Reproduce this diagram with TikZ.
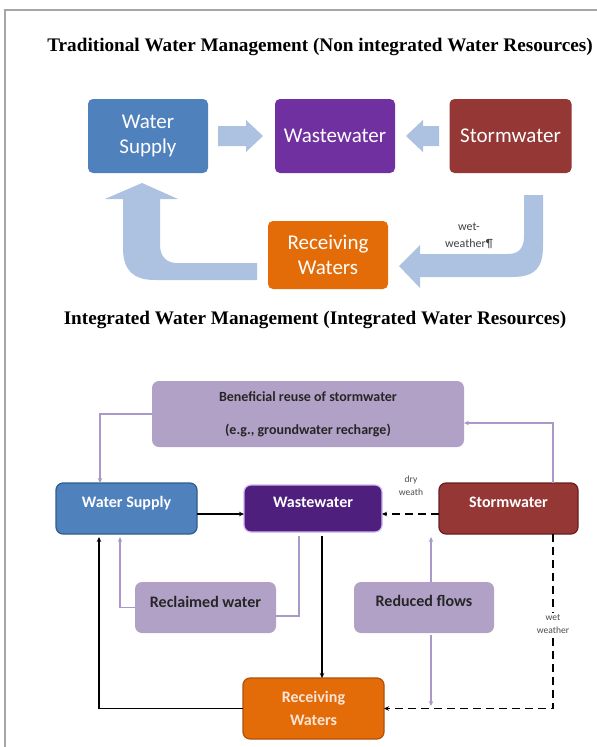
\documentclass[tikz,border=0pt]{standalone}
\usepackage{fontspec}
\setmainfont{Liberation Serif}
\newfontfamily\calfont{Carlito}
\usetikzlibrary{arrows.meta,calc}
\definecolor{tblue}{HTML}{4F81BD}
\definecolor{tpurple}{HTML}{7030A0}
\definecolor{tred}{HTML}{953735}
\definecolor{torange}{HTML}{E36C09}
\definecolor{arrowblue}{HTML}{ADC2E0}
\definecolor{lav}{HTML}{B2A1C7}
\definecolor{lavline}{HTML}{A999C9}
\definecolor{bpurple}{HTML}{4F1F7D}
\definecolor{bpurpleedge}{HTML}{D2B4F2}
\definecolor{bblueedge}{HTML}{2F5C8F}
\definecolor{bredge}{HTML}{6A1E1E}
\definecolor{boredge}{HTML}{B0500A}
\definecolor{framegray}{HTML}{A6A6A6}
\definecolor{rcvtext}{HTML}{FCE4D6}
\begin{document}
\begin{tikzpicture}[x=1pt,y=-1pt,
  topbox/.style={rectangle, rounded corners=5pt, inner sep=0pt, outer sep=0pt,
    minimum width=120pt, minimum height=74pt, text=white,
    font=\calfont\fontsize{21}{25}\selectfont, align=center},
  botbox/.style={rectangle, rounded corners=7pt, inner sep=0pt, outer sep=0pt,
    line width=1.2pt, text=white, font=\calfont\bfseries\fontsize{16}{23}\selectfont, align=center},
  rowtext/.style={text height=11pt, text depth=14pt},
  lavbox/.style={rectangle, rounded corners=7pt, fill=lav, inner sep=0pt, outer sep=0pt,
    text=black!85, font=\calfont\bfseries\fontsize{16}{20}\selectfont, align=center},
  blk/.style={line width=1.5pt, -{Stealth[length=5pt,width=4.5pt]}},
  dsh/.style={blk, dash pattern=on 8pt off 5pt},
  lavarr/.style={draw=lavline, line width=1.4pt, -{Stealth[length=5pt,width=4.5pt]}},
  lavln/.style={draw=lavline, line width=1.4pt},
  smalllab/.style={font=\calfont\fontsize{9.5}{13}\selectfont, text=black!70, align=center, inner sep=1pt},
  ttl/.style={font=\bfseries\fontsize{19.2}{23}\selectfont, inner sep=0pt}
]
\useasboundingbox (0,0) rectangle (597,747);
\fill[white] (0,0) rectangle (597,747);
\draw[framegray, line width=2pt] (5,747) -- (5,10) -- (597,10);

% ---------- top part ----------
\node[ttl] (t1) at (320,47) {Traditional Water Management (Non integrated Water Resources)};

\node[topbox, fill=tblue] (tws) at (148,136) {Water\\Supply};
\node[topbox, fill=tpurple] (tww) at (335,136) {Wastewater};
\node[topbox, fill=tred, minimum width=122pt] (tsw) at (510.5,136) {Stormwater};
\node[topbox, fill=torange, minimum height=68pt] (trw) at (328,255) {Receiving\\Waters};

\fill[arrowblue] (218,126) -- (246,126) -- (246,120) -- (263,136) -- (246,152) -- (246,146) -- (218,146) -- cycle;
\fill[arrowblue] (439,126) -- (423,126) -- (423,120) -- (406,136) -- (423,152) -- (423,146) -- (439,146) -- cycle;
\fill[arrowblue] (257,263) -- (177,263) .. controls (166,263) and (160,256) .. (160,245)
  -- (160,199) -- (178,199) -- (142,183) -- (105,199) -- (123,199) -- (123,248)
  .. controls (123,270) and (133,280) .. (155,280) -- (257,280) -- cycle;
\fill[arrowblue] (524,195) -- (543,195) -- (543,246) .. controls (543,268) and (535,277) .. (512,277)
  -- (420,277) -- (420,288) -- (399,266) -- (420,245) -- (420,254) -- (508,254)
  .. controls (519,254) and (524,248) .. (524,236) -- cycle;
\node[font=\calfont\fontsize{12}{17}\selectfont, text=black!75, align=center] (wetw) at (469,236) {wet-\\weather¶};

% ---------- bottom part ----------
\node[ttl] (t2) at (315,320) {Integrated Water Management (Integrated Water Resources)};

\node[lavbox, minimum width=312pt, minimum height=66pt, font=\calfont\bfseries\fontsize{14}{33}\selectfont] (ben) at (308,414)
  {Beneficial reuse of stormwater\\(e.g., groundwater recharge)};
\node[botbox, rowtext, fill=tblue, draw=bblueedge, minimum width=141pt, minimum height=51pt] (wsb) at (126.5,508.5) {Water Supply};
\node[botbox, rowtext, fill=bpurple, draw=bpurpleedge, minimum width=138pt, minimum height=47pt] (wwb) at (313,508.5) {Wastewater};
\node[botbox, rowtext, fill=tred, draw=bredge, minimum width=139pt, minimum height=51pt] (stb) at (508.5,508.5) {Stormwater};
\node[lavbox, text height=11pt, text depth=12pt, minimum width=141pt, minimum height=51pt] (rec) at (205.5,607.5) {Reclaimed water};
\node[lavbox, text height=11pt, text depth=14pt, minimum width=140pt, minimum height=51pt] (rf) at (424,607.5) {Reduced flows};
\node[botbox, fill=torange, draw=boredge, text=rcvtext, minimum width=141pt, minimum height=61pt] (rcv) at (313.5,708.5) {Receiving\\Waters};

\draw[lavarr] (ben.west) -| ([xshift=-26.5pt]wsb.north);
\draw[lavarr] ([xshift=44.5pt]stb.north) |- ([yshift=-9pt]ben.east);
\draw[blk] ([yshift=-5.5pt]wsb.east) -- ([yshift=-5.5pt]wsb.east -| wwb.west);
\draw[dsh] ([yshift=-5.5pt]stb.west) -- ([yshift=-5.5pt]stb.west -| wwb.east);
\draw[lavarr, shorten >=3pt] (rec.west) -| ([xshift=-6.5pt]wsb.south);
\draw[lavln, shorten <=4pt] ([xshift=-14pt]wwb.south) |- ([yshift=-8.5pt]rec.east);
\draw[blk, shorten <=4pt] ([xshift=9pt]wwb.south) -- ([xshift=9pt]wwb.south |- rcv.north);
\draw[blk, shorten >=3pt] (rcv.west) -| ([xshift=-27.5pt]wsb.south);
\coordinate (rfup) at (431,537);
\coordinate (rfdn) at (431,706);
\draw[lavarr] ([xshift=7pt]rf.north) -- (rfup);
\draw[lavarr, shorten <=2pt] ([xshift=7pt]rf.south) -- (rfdn);
\draw[dsh] ([xshift=44.5pt]stb.south) |- (rcv.east);
\node[smalllab, fill=white] (wetlab) at (553,624) {wet\\weather};
\node[smalllab] (drylab) at (411,486) {dry\\weath};
\end{tikzpicture}
\end{document}
